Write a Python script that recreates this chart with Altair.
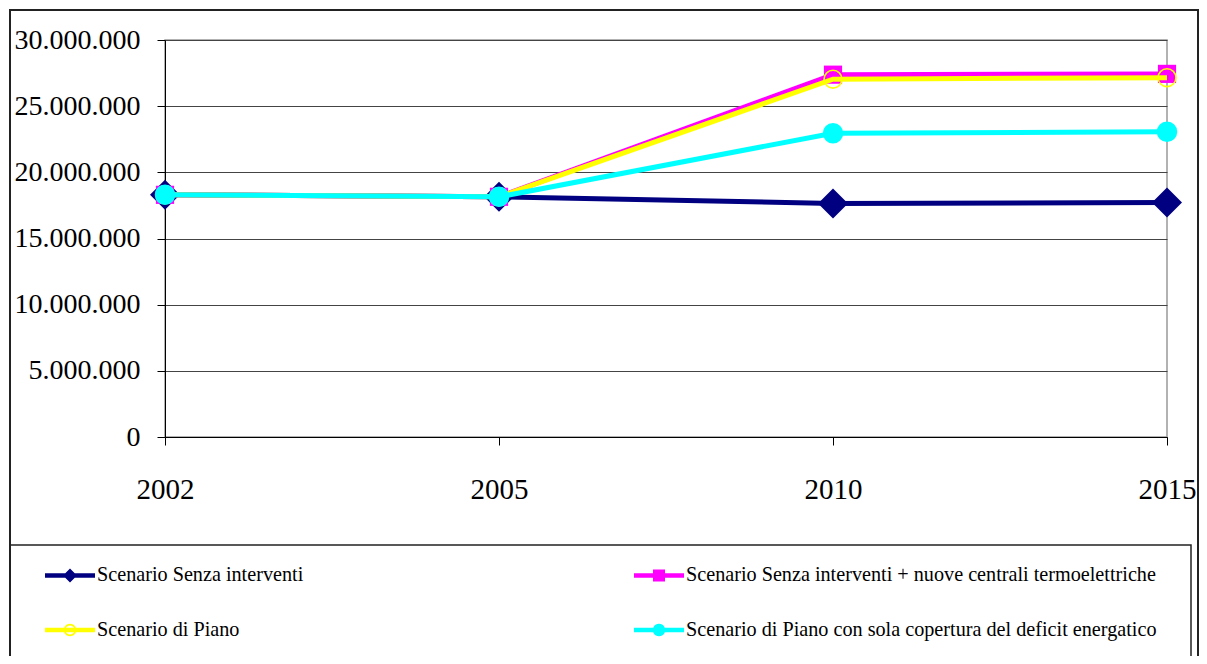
import math
import altair as alt
import pandas as pd

# ---------------- data ----------------
years = ["2002", "2005", "2010", "2015"]
series_names = [
    "Scenario Senza interventi",
    "Scenario Senza interventi + nuove centrali termoelettriche",
    "Scenario di Piano",
    "Scenario di Piano con sola copertura del deficit energatico",
]
senza = [18300000, 18150000, 17650000, 17720000]
senza_nuove = [18300000, 18150000, 27380000, 27440000]
piano = [18300000, 18150000, 27040000, 27150000]
piano_sola = [18300000, 18150000, 22950000, 23070000]
y_ticks = [0, 5000000, 10000000, 15000000, 20000000, 25000000, 30000000]

colors = ["#000080", "#FF00FF", "#FFFF00", "#00FFFF"]

rows = []
for name, vals in zip(series_names, [senza, senza_nuove, piano, piano_sola]):
    for yr, v in zip(years, vals):
        rows.append({"serie": name, "anno": yr, "valore": v})
df = pd.DataFrame(rows)

FONT = "Liberation Serif"


# ---------------- legend symbol paths (style only) ----------------
def poly(r, n=24, reverse=False):
    angs = [2 * math.pi * i / n for i in range(n)]
    if reverse:
        angs = angs[::-1]
    pts = [f"{r*math.cos(a):.4f},{r*math.sin(a):.4f}" for a in angs]
    return "M" + "L".join(pts) + "Z"


line_part = "M-1,-0.09H1V0.09H-1Z"
diamond_sym = line_part + " M0,-0.28L0.28,0L0,0.28L-0.28,0Z"
square_sym = line_part + " M-0.24,-0.24H0.24V0.24H-0.24Z"
ring_sym = line_part + " " + poly(0.25) + " " + poly(0.18, reverse=True)
circle_sym = line_part + " " + poly(0.25)
sym_paths = [diamond_sym, square_sym, ring_sym, circle_sym]

# legend is laid out column by column: order entries so rows read as in the reference
leg_order = [0, 2, 1, 3]
leg_domain = [series_names[i] for i in leg_order]
leg_colors = [colors[i] for i in leg_order]
leg_paths = [sym_paths[i] for i in leg_order]

# ---------------- encodings ----------------
x_enc = alt.X(
    "anno:O",
    sort=years,
    scale=alt.Scale(domain=years, type="point", padding=0),
    axis=alt.Axis(
        title=None,
        labelAngle=0,
        labelFont=FONT,
        labelFontSize=29,
        labelColor="#000",
        labelPadding=30,
        tickSize=8,
        tickColor="#000",
        domainColor="#000",
        grid=False,
    ),
)
y_enc = alt.Y(
    "valore:Q",
    scale=alt.Scale(domain=[0, 30000000], nice=False),
    axis=alt.Axis(
        title=None,
        values=y_ticks,
        labelExpr="replace(replace(format(datum.value, ',d'), ',', '.'), ',', '.')",
        labelFont=FONT,
        labelFontSize=28,
        labelColor="#000",
        labelPadding=17,
        tickSize=8,
        tickColor="#000",
        domainColor="#000",
        grid=True,
        gridColor="#444",
        gridWidth=1,
    ),
)

base = alt.Chart(df)

point_styles = [
    dict(shape="diamond", filled=True, size=900),
    dict(shape="square", filled=True, size=330),
    dict(shape="circle", filled=False, size=320, strokeWidth=1.6),
    dict(shape="circle", filled=True, size=420),
]

layers = []
for name, col, st in zip(series_names, colors, point_styles):
    sub = base.transform_filter(alt.datum.serie == name)
    layers.append(
        sub.mark_line(color=col, strokeWidth=5).encode(x=x_enc, y=y_enc)
    )
    layers.append(
        sub.mark_point(color=col, opacity=1, **st).encode(x=x_enc, y=y_enc)
    )

leg = alt.Legend(
    title=None,
    orient="none",
    legendX=-120,
    legendY=510,
    columns=2,
    columnPadding=330,
    rowPadding=19,
    symbolSize=2500,
    symbolStrokeWidth=0,
    labelFont=FONT,
    labelFontSize=20.2,
    labelColor="#000",
    labelLimit=800,
    labelOffset=2,
    padding=0,
)

legend_layer = (
    base.transform_filter("datum.valore < 0")
    .mark_point(filled=True, opacity=1, strokeWidth=0)
    .encode(
        x=x_enc,
        y=y_enc,
        color=alt.Color(
            "serie:N", scale=alt.Scale(domain=leg_domain, range=leg_colors), legend=leg
        ),
        shape=alt.Shape(
            "serie:N", scale=alt.Scale(domain=leg_domain, range=leg_paths), legend=leg
        ),
    )
)

# decorative frames (chart border and legend box)
frame_data = alt.Data(values=[{"k": 1}])
outer = alt.Chart(frame_data).mark_rect(
    fill="transparent", stroke="#222", strokeWidth=2
).encode(
    x=alt.value(-155), x2=alt.value(1033), y=alt.value(-30), y2=alt.value(640)
)
legend_box = alt.Chart(frame_data).mark_rect(
    fill="transparent", stroke="#222", strokeWidth=1.5
).encode(
    x=alt.value(-155), x2=alt.value(1026), y=alt.value(505), y2=alt.value(617)
)

chart = (
    alt.layer(outer, legend_box, *layers, legend_layer)
    .properties(
        width=1002,
        height=397,
        autosize=alt.AutoSizeParams(type="none"),
        padding={"left": 157, "top": 32, "right": 32, "bottom": 219},
        background="white",
    )
    .configure_view(stroke="#999", strokeWidth=1.5)
)

chart.save("out.html", embed_options={"renderer": "svg", "actions": False})
